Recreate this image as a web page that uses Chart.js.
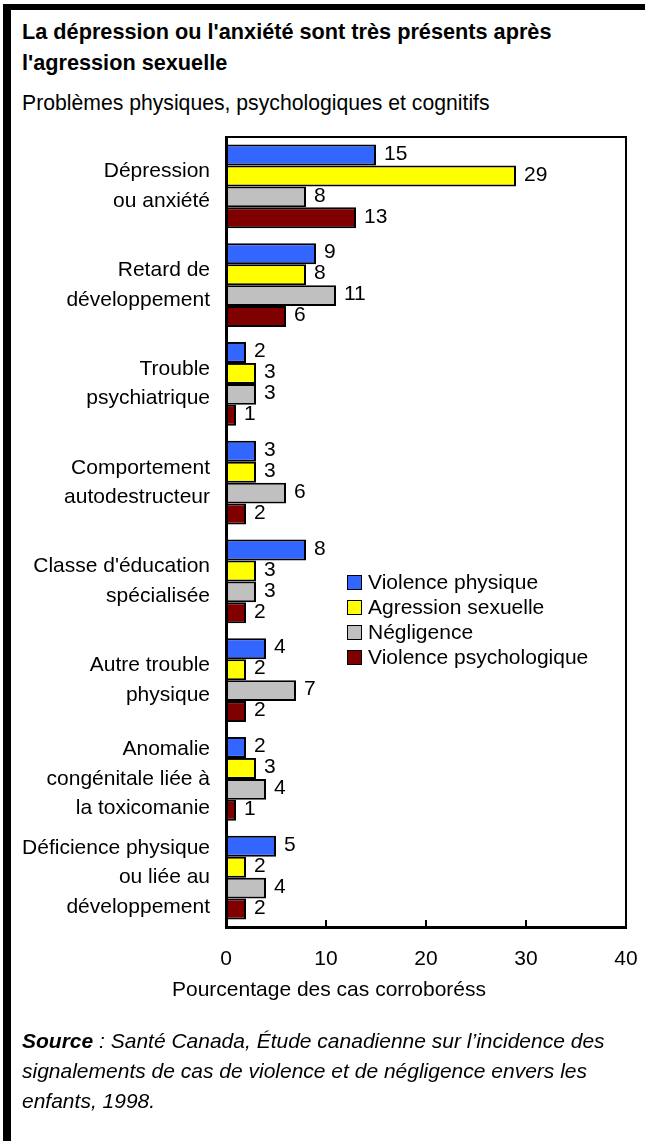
<!DOCTYPE html>
<html lang="fr">
<head>
<meta charset="UTF-8">
<title>Dépression ou anxiété après l'agression sexuelle</title>
<script src="https://cdn.jsdelivr.net/npm/chart.js"></script>
<style>
    html, body {
        margin: 0;
        padding: 0;
        background: #fff;
        font-family: "Liberation Sans", Arial, Helvetica, sans-serif;
        color: #000;
    }
    .page {
        position: relative;
        width: 645px;
        height: 1141px;
        overflow: hidden;
    }
    .frame {
        position: absolute;
        left: 3px;
        top: 4px;
        right: 0;
        bottom: 0;
        border-left: 8px solid #000;
        border-top: 6px solid #000;
    }
    .title {
        position: absolute;
        left: 22px;
        top: 16px;
        font-size: 21.7px;
        font-weight: bold;
        line-height: 31px;
    }
    .subtitle {
        position: absolute;
        left: 22px;
        top: 91px;
        font-size: 21.2px;
    }
    .chart-box {
        position: absolute;
        left: 0;
        top: 0;
        width: 645px;
        height: 1141px;
    }
    .legend {
        position: absolute;
        left: 347px;
        top: 569px;
        font-size: 21px;
    }
    .legend div {
        height: 25px;
        line-height: 25px;
        white-space: nowrap;
    }
    .legend span {
        display: inline-block;
        width: 13px;
        height: 13px;
        border: 1.5px solid #000;
        margin-right: 6px;
        vertical-align: -1px;
    }
    .axis-title {
        position: absolute;
        left: 172px;
        top: 977px;
        font-size: 21px;
    }
    .source {
        position: absolute;
        left: 22px;
        top: 1026px;
        font-size: 21px;
        font-style: italic;
        line-height: 30px;
    }
</style>
</head>
<body>
<div class="page">
    <div class="frame"></div>
    <div class="title">La dépression ou l'anxiété sont très présents après<br>l'agression sexuelle</div>
    <div class="subtitle">Problèmes physiques, psychologiques et cognitifs</div>
    <div class="chart-box"><canvas id="chart" width="645" height="1141"></canvas></div>
    <div class="legend" id="legend"></div>
    <div class="axis-title">Pourcentage des cas corroboréss</div>
    <div class="source"><b>Source</b> : Santé Canada, Étude canadienne sur l’incidence des<br>signalements de cas de violence et de négligence envers les<br>enfants, 1998.</div>
</div>

<script>
    // catégories (lignes des libellés)
    const categories = [
        ['Dépression', 'ou anxiété'],
        ['Retard de', 'développement'],
        ['Trouble', 'psychiatrique'],
        ['Comportement', 'autodestructeur'],
        ["Classe d'éducation", 'spécialisée'],
        ['Autre trouble', 'physique'],
        ['Anomalie', 'congénitale liée à', 'la toxicomanie'],
        ['Déficience physique', 'ou liée au', 'développement']
    ];

    const seriesNames = ['Violence physique', 'Agression sexuelle', 'Négligence', 'Violence psychologique'];
    const seriesColors = ['#3366ff', '#ffff00', '#c0c0c0', '#800000'];

    const violencePhysique = [15, 9, 2, 3, 8, 4, 2, 5];
    const agressionSexuelle = [29, 8, 3, 3, 3, 2, 3, 2];
    const negligence = [8, 11, 3, 6, 3, 7, 4, 4];
    const violencePsychologique = [13, 6, 1, 2, 2, 2, 1, 2];

    const xTicks = [0, 10, 20, 30, 40];

    const seriesValues = [violencePhysique, agressionSexuelle, negligence, violencePsychologique];
    const FONT = '"Liberation Sans", Arial, Helvetica, sans-serif';

    // légende HTML
    const legend = document.getElementById('legend');
    seriesNames.forEach((name, i) => {
        const row = document.createElement('div');
        row.innerHTML = '<span style="background:' + seriesColors[i] + '"></span>' + name;
        legend.appendChild(row);
    });

    // étiquettes de valeurs, cadre et graduations intérieures
    const decorPlugin = {
        id: 'decor',
        afterDatasetsDraw(chart) {
            const ctx = chart.ctx;
            const area = chart.chartArea;
            const xs = chart.scales.x;
            ctx.save();
            ctx.font = '21px ' + FONT;
            ctx.fillStyle = '#000';
            ctx.textAlign = 'left';
            ctx.textBaseline = 'middle';
            chart.data.datasets.forEach((ds, di) => {
                chart.getDatasetMeta(di).data.forEach((bar, i) => {
                    ctx.fillText(String(ds.data[i]), bar.x + 8, bar.y - 1);
                });
            });
            ctx.strokeStyle = '#000';
            ctx.lineWidth = 2;
            ctx.beginPath();
            ctx.moveTo(area.left, area.top);
            ctx.lineTo(area.right, area.top);
            ctx.lineTo(area.right, area.bottom);
            ctx.stroke();
            ctx.beginPath();
            xTicks.forEach(v => {
                const px = Math.round(xs.getPixelForValue(v));
                ctx.moveTo(px, area.bottom);
                ctx.lineTo(px, area.bottom - 7);
            });
            ctx.stroke();
            ctx.restore();
        }
    };

    new Chart(document.getElementById('chart'), {
        type: 'bar',
        data: {
            labels: categories,
            datasets: seriesNames.map((name, i) => ({
                label: name,
                data: seriesValues[i],
                backgroundColor: seriesColors[i],
                borderColor: '#000',
                borderWidth: 2,
                borderSkipped: false,
                categoryPercentage: 0.85,
                barPercentage: 1
            }))
        },
        options: {
            indexAxis: 'y',
            responsive: false,
            animation: false,
            devicePixelRatio: 1,
            layout: {
                padding: { top: 137, right: 19, bottom: 134, left: 0 }
            },
            plugins: {
                legend: { display: false },
                tooltip: { enabled: false }
            },
            scales: {
                x: {
                    min: 0,
                    max: 40,
                    afterFit(s) {
                        s.height = 80;
                        s.paddingLeft = 0;
                        s.paddingRight = 0;
                    },
                    afterBuildTicks(s) { s.ticks = xTicks.map(v => ({ value: v })); },
                    grid: { display: false, drawTicks: false },
                    border: { display: true, color: '#000', width: 3 },
                    ticks: {
                        padding: 20,
                        color: '#000',
                        font: { family: FONT, size: 21 },
                        maxRotation: 0
                    }
                },
                y: {
                    afterFit(s) {
                        s.width = 226;
                        s.paddingTop = 0;
                        s.paddingBottom = 0;
                    },
                    grid: { display: false, drawTicks: false },
                    border: { display: true, color: '#000', width: 3 },
                    ticks: {
                        padding: 16,
                        color: '#000',
                        font: { family: FONT, size: 21, lineHeight: 1.4 }
                    }
                }
            }
        },
        plugins: [decorPlugin]
    });
</script>
</body>
</html>
